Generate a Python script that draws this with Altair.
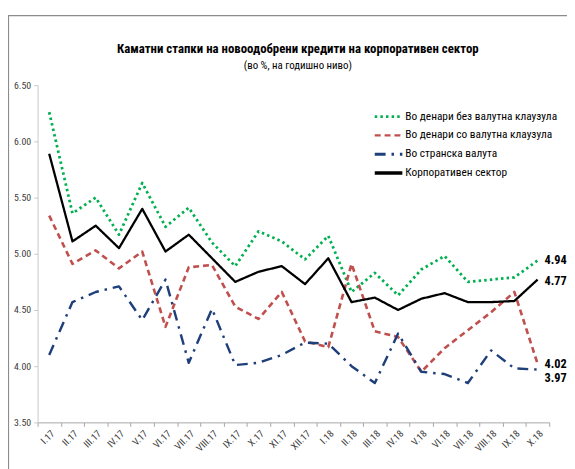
import altair as alt
import pandas as pd

months = ["I.17", "II.17", "III.17", "IV.17", "V.17", "VI.17", "VII.17", "VIII.17", "IX.17", "X.17",
          "XI.17", "XII.17", "I.18", "II.18", "III.18", "IV.18", "V.18", "VI.18", "VII.18", "VIII.18",
          "IX.18", "X.18"]
series_names = ["Во денари без валутна клаузула", "Во денари со валутна клаузула",
                "Во странска валута", "Корпоративен сектор"]
denars_no_clause = [6.26, 5.36, 5.50, 5.17, 5.63, 5.24, 5.41, 5.10, 4.89, 5.20, 5.11, 4.95,
                    5.16, 4.66, 4.83, 4.63, 4.86, 4.98, 4.75, 4.77, 4.79, 4.94]
denars_clause = [5.34, 4.91, 5.03, 4.87, 5.02, 4.35, 4.88, 4.90, 4.53, 4.42, 4.66, 4.22,
                 4.17, 4.91, 4.31, 4.26, 3.95, 4.16, 4.32, 4.48, 4.66, 4.02]
foreign = [4.10, 4.57, 4.66, 4.71, 4.41, 4.77, 4.03, 4.51, 4.01, 4.03, 4.10, 4.21,
           4.20, 4.00, 3.85, 4.29, 3.95, 3.93, 3.85, 4.14, 3.98, 3.97]
corporate = [5.89, 5.11, 5.25, 5.05, 5.40, 5.02, 5.17, 4.96, 4.75, 4.84, 4.89, 4.73,
             4.96, 4.57, 4.61, 4.50, 4.60, 4.65, 4.57, 4.57, 4.58, 4.77]
y_ticks = [3.5, 4.0, 4.5, 5.0, 5.5, 6.0, 6.5]
title_text = "Каматни стапки на новоодобрени кредити на корпоративен сектор"
subtitle_text = "(во %, на годишно ниво)"

colors = ["#00B050", "#C0504D", "#1F3F7A", "#000000"]
dashes = [[2.5, 3.2], [6, 4], [11, 6, 2.5, 6], [1, 0]]
widths = [2.8, 2.3, 3.0, 3.6]

rows = []
for name, vals in zip(series_names, [denars_no_clause, denars_clause, foreign, corporate]):
    for m, v in zip(months, vals):
        rows.append({"series": name, "month": m, "value": v})
df = pd.DataFrame(rows)
last = df[df["month"] == months[-1]]

W, H = 519, 342
FONT = "Liberation Sans Narrow, Roboto Condensed, DejaVu Sans Condensed, sans-serif"

x = alt.X("month:N", sort=months, bandPosition=0.5,
          scale=alt.Scale(type="band", domain=months, paddingInner=0, paddingOuter=0),
          axis=alt.Axis(title=None, labelAngle=-45, tickBand="extent", labelFont=FONT,
                        labelFontSize=10, labelColor="#404040", domainColor="#a6a6a6",
                        tickColor="#a6a6a6", tickSize=4, labelPadding=2))
y = alt.Y("value:Q", scale=alt.Scale(domain=[3.5, 6.5], nice=False, zero=False),
          axis=alt.Axis(title=None, values=y_ticks, format=".2f", grid=False, labelFont=FONT,
                        labelFontSize=10, labelColor="#404040", domainColor="#c8c8c8",
                        tickColor="#c8c8c8", tickSize=4, labelPadding=3))

lines = alt.Chart(df).mark_line(strokeCap="butt", strokeJoin="round").encode(
    x=x, y=y,
    color=alt.Color("series:N", scale=alt.Scale(domain=series_names, range=colors), legend=None),
    strokeDash=alt.StrokeDash("series:N", scale=alt.Scale(domain=series_names, range=dashes), legend=None),
    strokeWidth=alt.StrokeWidth("series:N", scale=alt.Scale(domain=series_names, range=widths), legend=None),
)

def end_label(name, dy):
    return alt.Chart(last[last["series"] == name]).mark_text(
        align="left", baseline="middle", dx=7, dy=dy, font=FONT, fontSize=12.5,
        fontWeight="bold", color="#000000"
    ).encode(x=x, y=y, text=alt.Text("value:Q", format=".2f"))

labels = [end_label(series_names[0], 0), end_label(series_names[3], 1),
          end_label(series_names[1], 0), end_label(series_names[2], 9)]

one = alt.Data(values=[{"a": 1}])
frame = alt.Chart(one).mark_rect(
    fillOpacity=0, stroke="#8c8c8c", strokeWidth=1.2
).encode(x=alt.value(-29.5), x2=alt.value(W + 60), y=alt.value(-70.5), y2=alt.value(H + 80))

title = alt.Chart(one).mark_text(
    text=title_text, font=FONT, fontSize=13, fontWeight="bold", color="#000000",
    align="center", baseline="middle"
).encode(x=alt.value(264), y=alt.value(-37))
subtitle = alt.Chart(one).mark_text(
    text=subtitle_text, font=FONT, fontSize=11, color="#000000",
    align="center", baseline="middle"
).encode(x=alt.value(264), y=alt.value(-19))

# legend (drawn as a small key in the upper right)
legend_layers = []
for i, name in enumerate(series_names):
    row_y = 32 + 19 * i
    legend_layers.append(
        alt.Chart(one).mark_rule(color=colors[i], strokeDash=dashes[i], strokeWidth=widths[i],
                                 strokeCap="butt")
        .encode(x=alt.value(342), x2=alt.value(370), y=alt.value(row_y))
    )
    legend_layers.append(
        alt.Chart(one).mark_text(text=name, font=FONT, fontSize=11.5, color="#000000",
                                 align="left", baseline="middle")
        .encode(x=alt.value(373), y=alt.value(row_y))
    )

chart = alt.layer(frame, title, subtitle, lines, *labels, *legend_layers).properties(
    width=W, height=H,
    autosize=alt.AutoSizeParams(type="none"),
    padding={"left": 30, "top": 75, "right": 18, "bottom": 44},
).configure_view(stroke=None)

chart.save("out.html", embed_options={"renderer": "svg", "actions": False})
